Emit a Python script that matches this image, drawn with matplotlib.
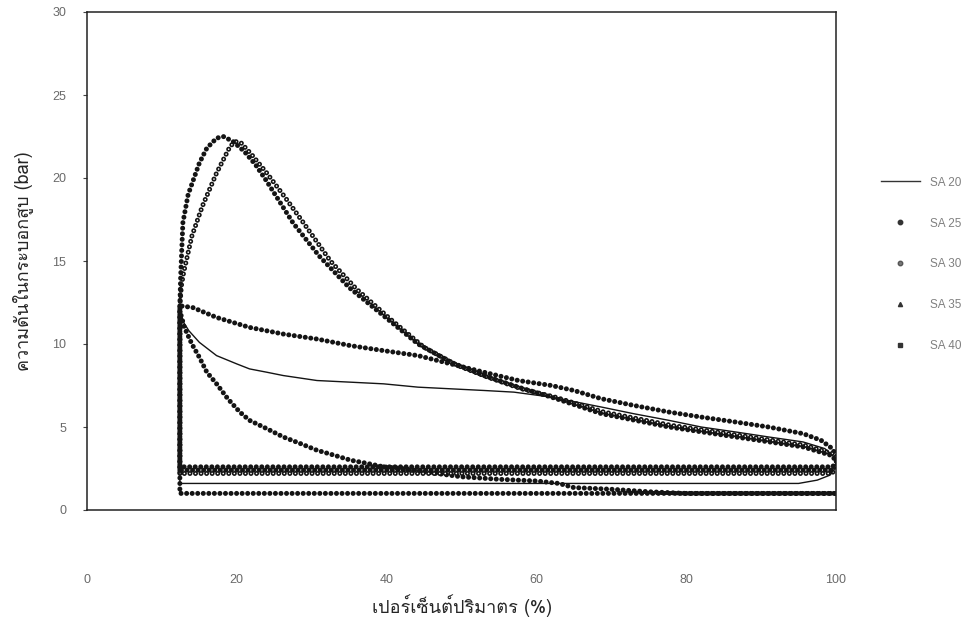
import matplotlib
matplotlib.use("Agg")
import matplotlib.pyplot as plt
from matplotlib.lines import Line2D
from matplotlib import font_manager as fm

# ---------------- data ----------------
series_names = ["SA 20", "SA 25", "SA 30", "SA 35", "SA 40"]

sa20_x = [12.4, 12.4, 12.9, 13.6, 15.0, 17.3, 20.0, 21.7, 24.0, 26.2, 30.7, 35.2, 39.6, 44.2, 48.6,
          53.0, 57.0, 62.0, 68.7, 73.0, 77.7, 82.0, 86.6, 91.0, 95.6, 98.5, 100.0, 100.0, 99.2, 97.5,
          95.0, 12.4]
sa20_y = [1.6, 12.0, 11.3, 10.8, 10.1, 9.3, 8.8, 8.5, 8.3, 8.1, 7.8, 7.7, 7.6, 7.4, 7.3,
          7.2, 7.1, 6.8, 6.2, 5.8, 5.4, 5.0, 4.7, 4.4, 4.1, 3.7, 3.1, 2.6, 2.1, 1.8,
          1.6, 1.6]

sa25_x = [12.4, 12.4, 12.5, 12.8, 13.5, 15.0, 16.0, 17.3, 18.2, 19.5, 21.0, 22.5, 24.0, 27.5, 31.0,
          35.0, 39.6, 44.2, 48.6, 53.0, 57.6, 62.0, 68.7, 77.7, 86.6, 95.6, 99.3, 100.2, 99.5, 12.4]
sa25_y = [2.6, 12.3, 14.0, 17.3, 19.0, 20.9, 21.8, 22.4, 22.5, 22.2, 21.6, 20.8, 19.8, 17.3, 15.3,
          13.4, 11.7, 10.0, 8.9, 8.1, 7.4, 6.8, 5.8, 5.0, 4.4, 3.8, 3.3, 2.9, 2.6, 2.6]

sa30_x = [12.4, 12.4, 12.6, 12.9, 14.0, 15.4, 17.3, 19.1, 19.8, 20.6, 22.0, 24.0, 26.5, 28.9, 32.5,
          36.0, 40.5, 45.0, 49.5, 53.5, 58.0, 62.5, 69.0, 78.0, 87.0, 95.8, 99.5, 100.3, 99.5, 12.4]
sa30_y = [2.2, 12.3, 13.5, 14.3, 16.5, 18.3, 20.3, 21.9, 22.2, 22.1, 21.4, 20.3, 18.8, 17.3, 15.0,
          13.3, 11.5, 9.8, 8.7, 8.0, 7.3, 6.8, 5.9, 5.1, 4.5, 3.9, 3.4, 3.0, 2.2, 2.2]

sa35_x = [12.4, 12.4, 14.1, 17.3, 21.7, 26.2, 30.7, 35.2, 39.6, 44.2, 48.6, 53.0, 57.6, 62.0, 65.0,
          68.7, 73.0, 77.7, 82.0, 86.6, 91.0, 95.6, 98.0, 99.5, 100.2, 99.5, 12.4]
sa35_y = [2.4, 12.3, 12.2, 11.6, 11.0, 10.6, 10.3, 9.9, 9.6, 9.3, 8.8, 8.3, 7.8, 7.5, 7.2,
          6.7, 6.3, 5.9, 5.6, 5.3, 5.0, 4.6, 4.2, 3.7, 3.1, 2.4, 2.4]

sa40_x = [100.0, 12.4, 12.4, 13.0, 14.0, 15.0, 16.0, 17.3, 18.8, 20.4, 21.7, 24.0, 26.2, 28.5, 30.7,
          33.0, 35.2, 37.5, 39.6, 42.0, 45.0, 50.0, 55.0, 60.0, 63.0, 65.0, 70.0, 75.0, 80.0, 90.0,
          100.0]
sa40_y = [1.0, 1.0, 12.0, 11.0, 10.0, 9.2, 8.3, 7.6, 6.7, 5.9, 5.4, 4.9, 4.4, 4.0, 3.6,
          3.3, 3.0, 2.8, 2.6, 2.5, 2.3, 2.0, 1.85, 1.75, 1.6, 1.35, 1.25, 1.1, 1.0, 1.0,
          1.0]

x_ticks = [0, 20, 40, 60, 80, 100]
x_tick_labels = ["0", "20", "40", "60", "80", "100"]
y_ticks = [0, 5, 10, 15, 20, 25, 30]

x_label = "เปอร์เซ็นต์ปริมาตร (%)"
y_label = "ความดันในกระบอกสูบ (bar)"


# ---------------- fonts: look for a family that has Thai glyphs ----------------
def thai_families():
    found = []
    try:
        from fontTools.ttLib import TTFont
    except Exception:
        return found
    seen = set()
    for f in fm.fontManager.ttflist:
        if f.fname in seen:
            continue
        seen.add(f.fname)
        try:
            tt = TTFont(f.fname, fontNumber=0, lazy=True)
            cmap = tt.getBestCmap()
            if cmap and 0x0E04 in cmap and 0x0E2A in cmap:
                if f.name not in found:
                    found.append(f.name)
        except Exception:
            pass
    return found


thai = thai_families()
label_family = thai + ["DejaVu Sans"]
plt.rcParams["font.family"] = ["Liberation Sans", "DejaVu Sans"]

# ---------------- figure ----------------
fig = plt.figure(figsize=(9.75, 6.19), dpi=100)
ax = fig.add_axes([87 / 975, 1 - 510 / 619, (836 - 87) / 975, (510 - 12) / 619])

ink = "#141414"
BEAD_LW = 3.6
PERIOD = 1.1  # in linewidth units


def beads(x, y, lw=BEAD_LW, hollow=False, z=2):
    ax.plot(x, y, color=ink, lw=lw, linestyle=(0, (0.01, PERIOD)),
            dash_capstyle="round", solid_capstyle="round", zorder=z)
    if hollow:
        inner = 1.2
        per = (0.01 + PERIOD) * lw / inner
        on = 0.01 * lw / inner
        ax.plot(x, y, color="white", lw=inner, linestyle=(0, (on, per - on)),
                dash_capstyle="round", zorder=z + 0.1)


beads(sa40_x, sa40_y, z=2)
beads(sa35_x, sa35_y, z=3)
beads(sa30_x, sa30_y, hollow=True, z=4)
beads(sa25_x, sa25_y, z=5)
ax.plot(sa20_x, sa20_y, color=ink, lw=1.0, zorder=7)

ax.set_xlim(0, 100)
ax.set_ylim(0, 30)
ax.set_xticks(x_ticks)
ax.set_xticklabels(x_tick_labels)
ax.set_yticks(y_ticks)

tick_col = "#6a6a6a"
ax.tick_params(axis="x", length=0, pad=46, labelsize=9, labelcolor=tick_col)
ax.tick_params(axis="y", length=3, width=0.8, color="#444444", pad=12, labelsize=9, labelcolor=tick_col)
for s in ax.spines.values():
    s.set_color("#222222")
    s.set_linewidth(1.1)

ax.set_xlabel(x_label, family=label_family, fontsize=13, color="#262626", labelpad=6)
ax.set_ylabel(y_label, family=label_family, fontsize=13, color="#262626", labelpad=14)

# legend (outside, right)
handles = [
    Line2D([], [], color="#333333", lw=1.0),
    Line2D([], [], color="#333333", lw=0, marker="o", ms=3.2),
    Line2D([], [], color="#555555", lw=0, marker="o", ms=3.2, mfc="#777777"),
    Line2D([], [], color="#333333", lw=0, marker="^", ms=3.0),
    Line2D([], [], color="#333333", lw=0, marker="s", ms=2.8),
]
leg = fig.legend(handles, series_names, loc="upper left", bbox_to_anchor=(870 / 975, 1 - 166 / 619),
                 frameon=False, fontsize=8.5, labelcolor="#808080", labelspacing=2.45,
                 handlelength=3.3, handletextpad=0.9)

fig.savefig("out.png", dpi=100)
